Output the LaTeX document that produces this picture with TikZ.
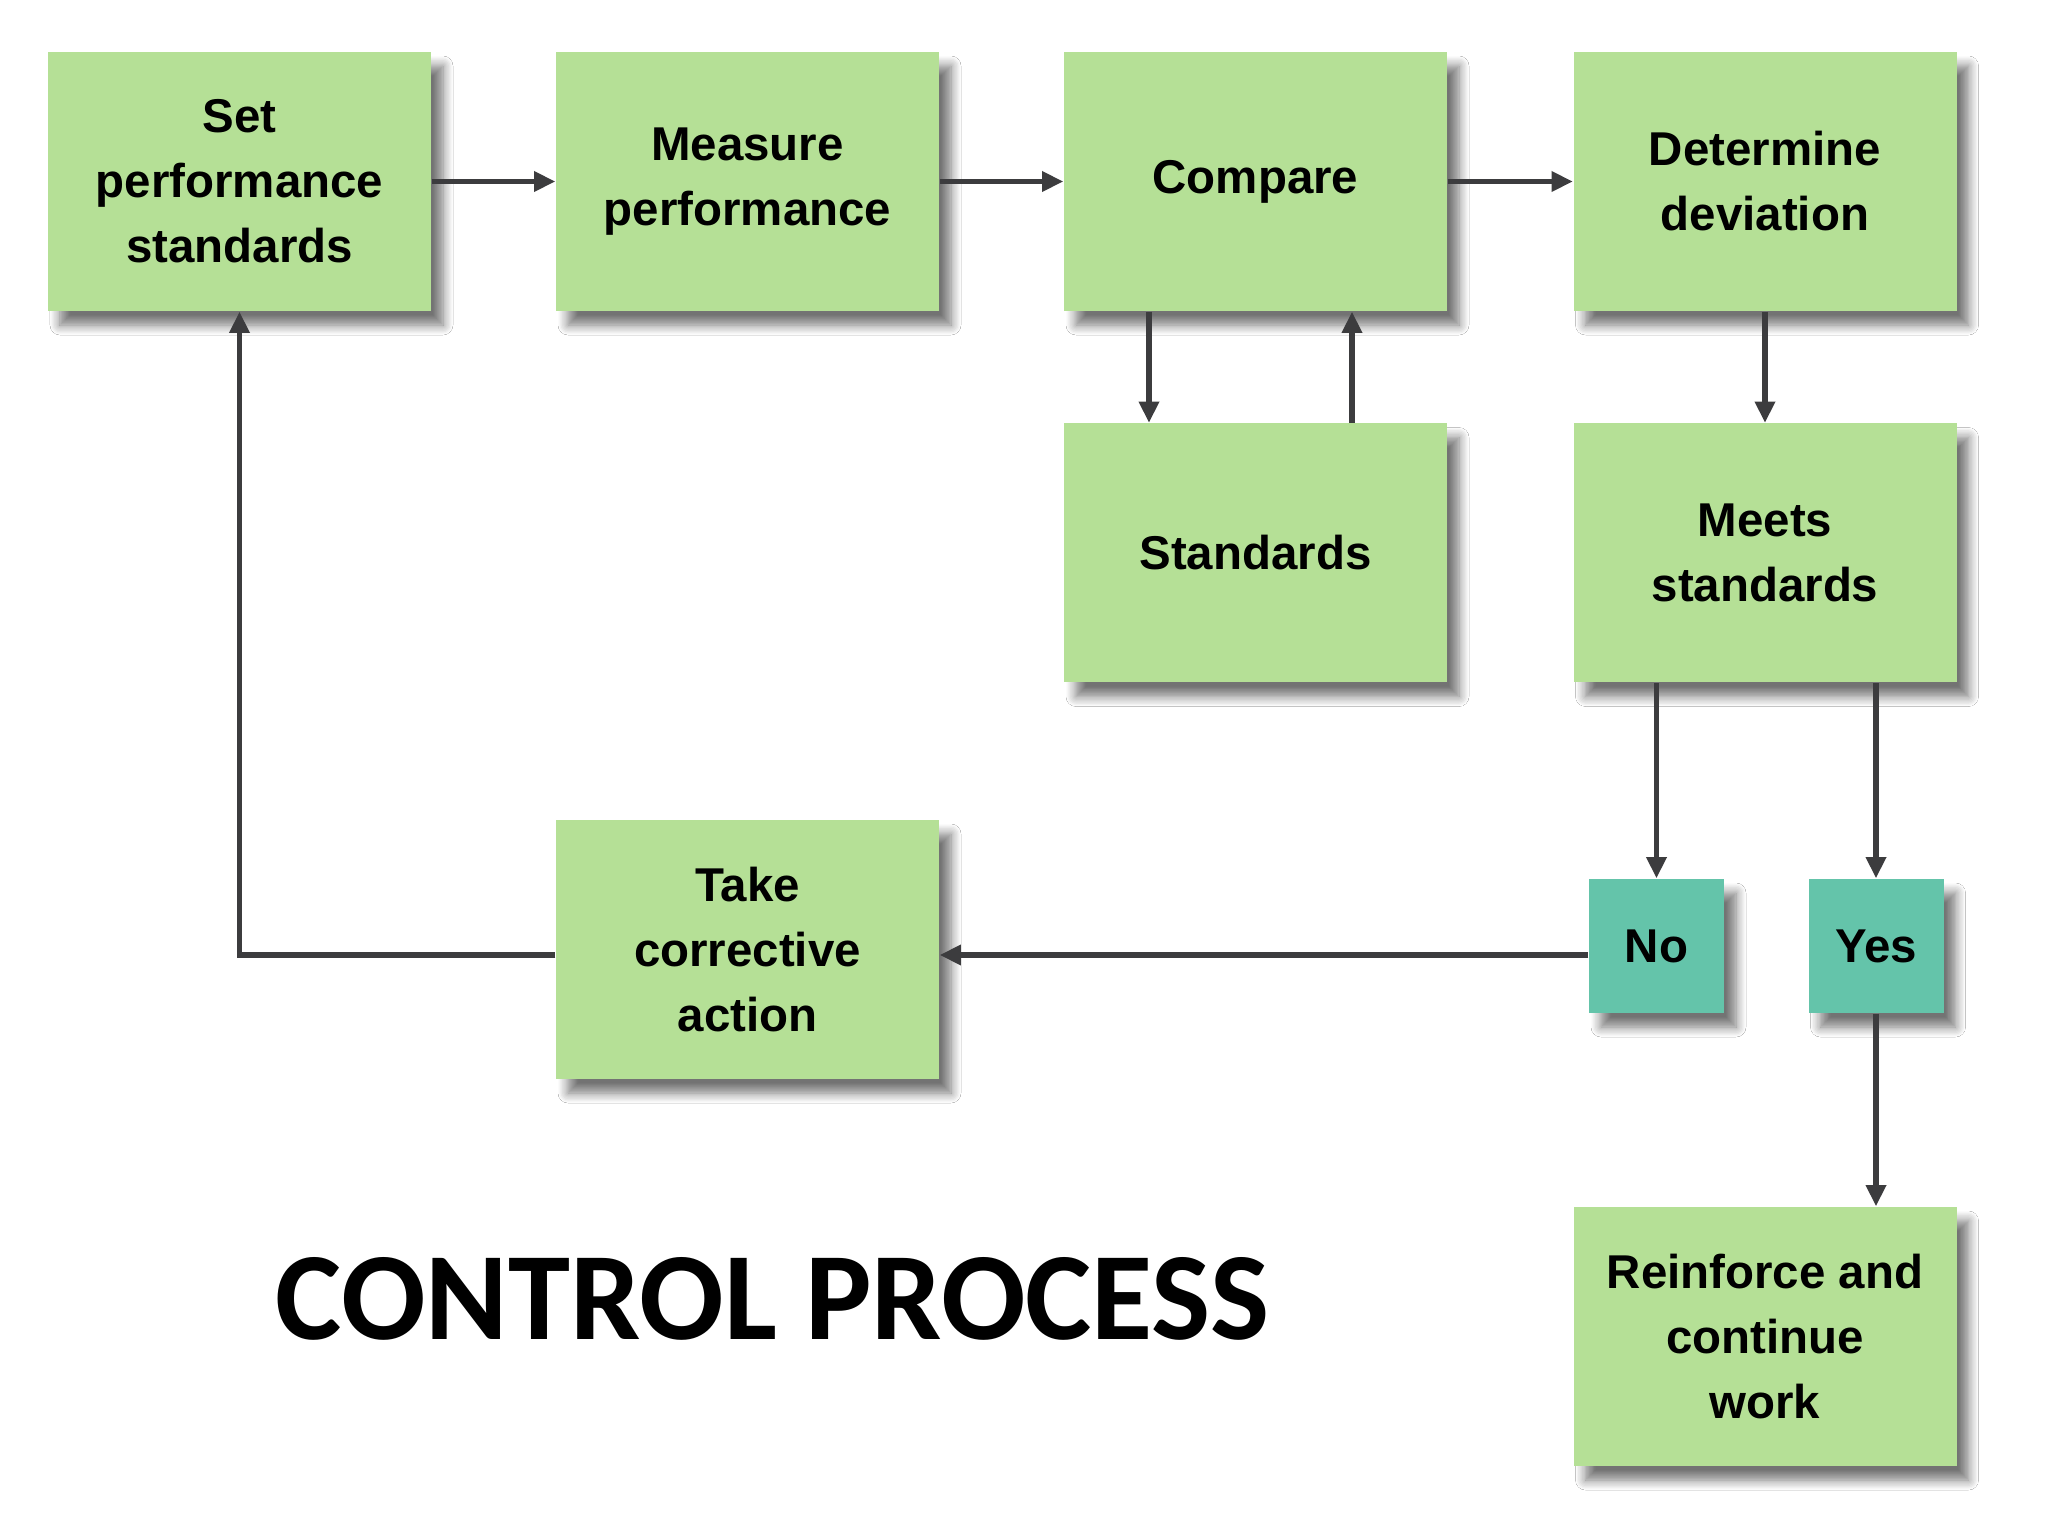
\documentclass[tikz,border=0pt]{standalone}
\usepackage{fontspec}
\setmainfont{Liberation Sans}
\newfontfamily\titlefont{Carlito}
\usepackage{xcolor}
\usepackage{tikz}
\usetikzlibrary{arrows.meta, positioning, shadows.blur, calc}

\definecolor{boxgreen}{RGB}{181,224,150}
\definecolor{boxteal}{RGB}{100,196,170}
\definecolor{linegray}{RGB}{60,60,62}

\begin{document}
\begin{tikzpicture}[
    block/.style={rectangle, fill=boxgreen, minimum width=3.83cm, minimum height=2.59cm, align=center, inner sep=0pt,
        font=\fontsize{13.5}{18.5}\selectfont\bfseries,
        blur shadow={shadow xshift=0.12cm, shadow yshift=-0.14cm, shadow opacity=55, shadow blur radius=0.1cm, shadow blur steps=8}},
    answer/.style={block, fill=boxteal, minimum width=1.35cm, minimum height=1.34cm},
    arrow/.style={-{Triangle[length=6pt, width=5.5pt]}, line width=1.7pt, draw=linegray}
]
\useasboundingbox[fill=white] (0,0) rectangle (20.48,-15.36);

\node[block] (setstd) at (2.395,-1.815) {Set\\performance\\standards};
\node[block] (measure) at (7.475,-1.815) {Measure\\performance};
\node[block] (compare) at (12.555,-1.815) {Compare};
\node[block] (deviation) at (17.65,-1.815) {Determine\\deviation};

\node[block] (standards) at (12.555,-5.53) {Standards};
\node[block] (meets) at (17.65,-5.53) {Meets\\standards};

\node[block] (corrective) at (7.475,-9.495) {Take\\corrective\\action};
\node[answer] (no) at (16.565,-9.46) {No};
\node[answer] (yes) at (18.76,-9.46) {Yes};

\node[block] (reinforce) at (17.65,-13.365) {Reinforce and\\continue\\work};

\node[font=\titlefont\fontsize{35.6}{38}\selectfont\bfseries] (title) at (7.73,-12.99) {CONTROL PROCESS};

\draw[arrow] (setstd) -- (measure);
\draw[arrow] (measure) -- (compare);
\draw[arrow] (compare) -- (deviation);
\draw[arrow] ([xshift=-1.065cm]compare.south) -- ([xshift=-1.065cm]standards.north);
\draw[arrow] ([xshift=0.965cm]standards.north) -- ([xshift=0.965cm]compare.south);
\draw[arrow] (deviation) -- (meets);
\draw[arrow] (meets.south -| no) -- (no);
\draw[arrow] (meets.south -| yes) -- (yes);
\draw[arrow] (yes) -- (reinforce.north -| yes);
\draw[arrow] ([yshift=-0.09cm]no.west) -- ([yshift=-0.09cm]no.west -| corrective.east);
\draw[arrow] ([yshift=-0.09cm]no.west -| corrective.west) -| (setstd.south);

\end{tikzpicture}
\end{document}
